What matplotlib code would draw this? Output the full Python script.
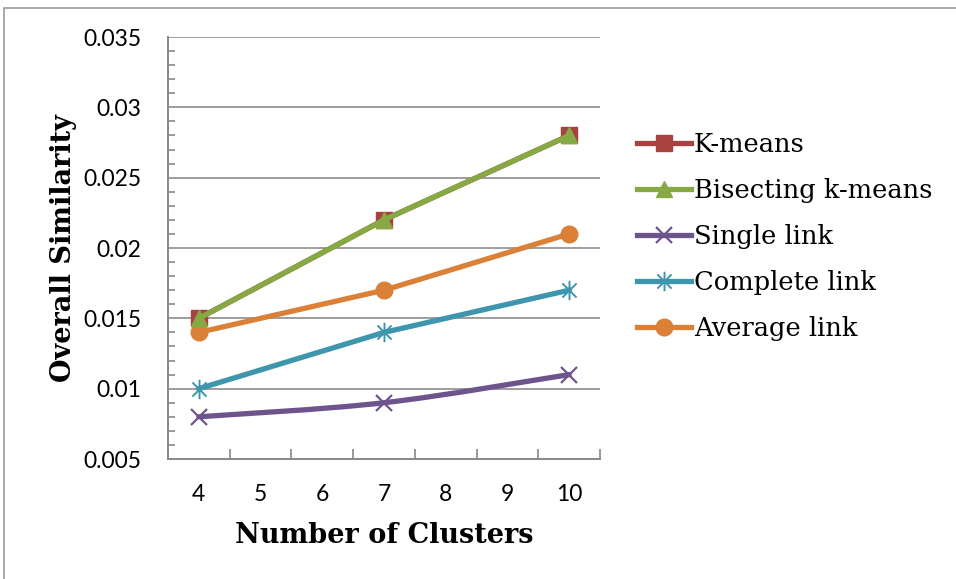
import numpy as np
import matplotlib
matplotlib.use('Agg')
import matplotlib.pyplot as plt
from matplotlib.path import Path
from matplotlib.patches import PathPatch, Rectangle
from matplotlib.lines import Line2D

# datos: similitud global por numero de clusters
clusters = [4, 7, 10]
kmeans = [0.015, 0.022, 0.028]
bisecting = [0.015, 0.022, 0.028]
single_link = [0.008, 0.009, 0.011]
complete_link = [0.010, 0.014, 0.017]
average_link = [0.014, 0.017, 0.021]

x_labels = ['4', '5', '6', '7', '8', '9', '10']
y_ticks = [0.005, 0.01, 0.015, 0.02, 0.025, 0.03, 0.035]
y_labels = ['0.005', '0.01', '0.015', '0.02', '0.025', '0.03', '0.035']

c_red = '#A8423F'
c_green = '#86A944'
c_purple = '#6E548D'
c_teal = '#3D96AE'
c_orange = '#DA8137'

tick_font = 'Lato'
serif_font = 'DejaVu Serif'

# asterisco: cruz en X mas linea vertical
star = Path([(-0.8, -0.8), (0.8, 0.8), (-0.8, 0.8), (0.8, -0.8), (0, -1.1), (0, 1.1)],
            [Path.MOVETO, Path.LINETO, Path.MOVETO, Path.LINETO, Path.MOVETO, Path.LINETO])


def smooth_path(xs, ys):
  # curva tipo Catmull-Rom (linea suavizada)
  pts = np.column_stack([xs, ys]).astype(float)
  n = len(pts)
  verts = [pts[0]]
  codes = [Path.MOVETO]
  for i in range(n - 1):
    p_prev = pts[i - 1] if i > 0 else pts[i]
    p_next = pts[i + 2] if i + 2 < n else pts[i + 1]
    c1 = pts[i] + (pts[i + 1] - p_prev) / 6.0
    c2 = pts[i + 1] - (p_next - pts[i]) / 6.0
    verts += [c1, c2, pts[i + 1]]
    codes += [Path.CURVE4] * 3
  return Path(verts, codes)


fig = plt.figure(figsize=(9.56, 5.79), dpi=100)
ax = fig.add_axes([168 / 956, 1 - 459 / 579, 432 / 956, 422 / 579])

# marco exterior
fig.patches.append(Rectangle((4 / 956, -0.1), 1.2, (579 - 8) / 579 + 0.1,
                             transform=fig.transFigure, fill=False,
                             edgecolor='#9a9a9a', lw=1.2, zorder=0))

lw = 3.8
ax.plot(clusters, kmeans, color=c_red, lw=lw, marker='s', ms=11,
        mec=c_red, mfc=c_red, label='K-means', zorder=3)
ax.plot(clusters, bisecting, color=c_green, lw=lw, marker='^', ms=12,
        mec=c_green, mfc=c_green, label='Bisecting k-means', zorder=4)
ax.add_patch(PathPatch(smooth_path(clusters, single_link), fill=False,
                       edgecolor=c_purple, lw=lw, zorder=3, capstyle='round'))
ax.plot(clusters, single_link, color=c_purple, lw=0, marker='x', ms=12,
        mew=1.6, zorder=3)
ax.plot(clusters, complete_link, color=c_teal, lw=lw, marker=star, ms=14,
        mew=1.4, mec=c_teal, zorder=3)
ax.plot(clusters, average_link, color=c_orange, lw=lw, marker='o', ms=12,
        mec=c_orange, mfc=c_orange, zorder=3)

ax.set_xlim(3.5, 10.5)
ax.set_ylim(0.005, 0.035)

ax.set_yticks(y_ticks)
ax.set_yticklabels(y_labels)
ax.set_yticks(np.arange(0.005, 0.0351, 0.001), minor=True)
ax.tick_params(axis='y', which='major', length=0, pad=19, labelsize=16.5)
ax.tick_params(axis='y', which='minor', direction='in', length=5,
               color='#888888', width=1.2)

ax.set_xticks(range(4, 11))
ax.set_xticklabels(x_labels)
ax.set_xticks(np.arange(3.5, 10.6, 1.0), minor=True)
ax.tick_params(axis='x', which='major', length=0, pad=18, labelsize=16.5)
ax.tick_params(axis='x', which='minor', direction='in', length=7,
               color='#888888', width=1.2)
for lab in ax.get_xticklabels() + ax.get_yticklabels():
  lab.set_fontfamily(tick_font)

ax.grid(axis='y', which='major', color='#8c8c8c', lw=1.2)
ax.set_axisbelow(True)
for s in ['top', 'right']:
  ax.spines[s].set_visible(False)
for s in ['left', 'bottom']:
  ax.spines[s].set_color('#888888')
  ax.spines[s].set_linewidth(1.4)

ax.set_xlabel('Number of Clusters', fontfamily=serif_font, fontweight='bold',
              fontsize=19.5, labelpad=12)
ax.set_ylabel('Overall Similarity', fontfamily=serif_font, fontweight='bold',
              fontsize=19.5, labelpad=5)

# leyenda
handles = [
  Line2D([], [], color=c_red, lw=lw, marker='s', ms=11, mfc=c_red, mec=c_red),
  Line2D([], [], color=c_green, lw=lw, marker='^', ms=12, mfc=c_green, mec=c_green),
  Line2D([], [], color=c_purple, lw=lw, marker='x', ms=12, mew=1.6),
  Line2D([], [], color=c_teal, lw=lw, marker=star, ms=14, mew=1.4),
  Line2D([], [], color=c_orange, lw=lw, marker='o', ms=12, mfc=c_orange, mec=c_orange),
]
names = ['K-means', 'Bisecting k-means', 'Single link', 'Complete link', 'Average link']
fig.legend(handles, names, loc='upper left', bbox_to_anchor=(627 / 956, 1 - 122 / 579),
           frameon=False, handlelength=2.1, handletextpad=0.1, labelspacing=0.81,
           prop={'family': serif_font, 'size': 18.5}, borderaxespad=0)

fig.savefig('out.png', dpi=100)
